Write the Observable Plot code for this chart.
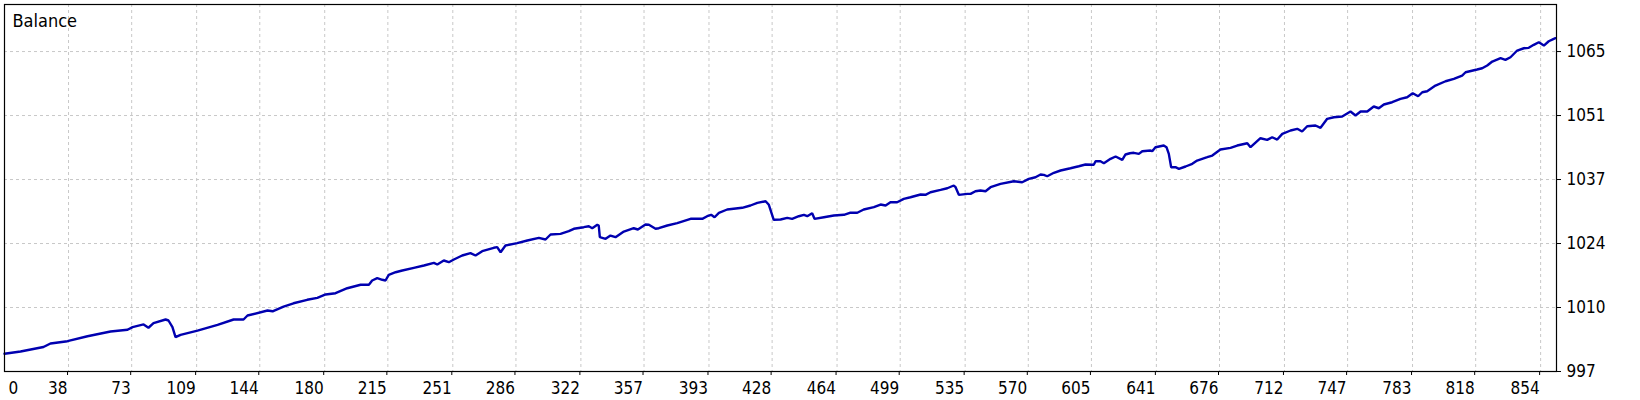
<!DOCTYPE html>
<html>
<head>
<meta charset="utf-8">
<script src="https://cdn.jsdelivr.net/npm/d3@7"></script>
<script src="https://cdn.jsdelivr.net/npm/@observablehq/plot@0.6"></script>
<style>
  html, body { margin: 0; padding: 0; background: #ffffff; }
  #chart { width: 1640px; height: 400px; }
</style>
</head>
<body>
<div id="chart"></div>
<script>
// Deal number (x) and account balance (y)
const deals = [
  2.5, 11.4, 24.1, 28.0, 37.4, 48.5, 61.3, 70.7, 73.5, 79.6, 82.3, 85.1, 91.8, 93.4, 95.6, 97.3, 100.1, 109.5, 120.6, 129.5, 135.0, 137.2, 148.3, 151.1, 157.2, 162.7,
  170.3, 175.9, 180.5, 186.0, 192.5, 199.9, 204.5, 206.3, 209.1, 211.9, 213.7, 215.5, 219.3, 223.0, 229.4, 235.0, 240.5, 242.4, 246.0, 248.8, 251.6, 256.2, 260.8, 263.6, 267.3, 273.7, 275.6, 277.5, 280.2, 286.7, 292.3, 298.7, 302.4, 305.2, 310.7, 315.3,
  318.1, 323.6, 326.4, 328.3, 331.1, 331.9, 332.5, 335.7, 338.4, 341.2, 345.8, 351.3, 353.6, 357.8, 359.7, 363.4, 365.2, 369.9, 375.4, 382.8, 389.3, 392.0, 394.2, 396.1, 398.5, 403.1, 411.4, 416.0, 419.8, 424.4, 426.2, 428.9, 432.7, 436.4, 439.1, 442.8, 445.6, 447.5, 450.2, 451.5, 456.7, 462.2, 467.8, 471.1,
  475.2, 478.8, 484.4, 488.1, 490.9, 493.6, 497.3, 501.0, 504.7, 510.3, 513.0, 515.8, 521.4, 525.1, 528.7, 529.7, 531.5, 536.2, 538.0, 540.7, 543.5, 546.3, 549.1, 554.6, 562.0, 566.6, 570.3, 574.0, 576.8, 578.6, 580.5, 584.2, 587.9, 593.4, 598.0, 601.7, 606.3, 607.3, 610.0, 611.9, 615.6, 618.4, 622.1, 623.9, 626.3,
  628.5, 631.3, 633.2, 637.8, 638.7, 640.5, 645.1, 646.6, 647.9, 649.2, 651.6, 653.5, 657.2, 660.9, 663.6, 669.2, 672.0, 676.5, 682.1, 685.8, 691.4, 693.2, 698.7, 702.4, 705.2, 708.0, 710.8, 715.4, 719.1, 721.8, 724.6, 729.2, 732.0, 735.7, 739.4, 744.0, 748.6, 751.4, 754.2, 757.9, 761.5, 764.3, 767.1, 771.7,
  776.3, 780.0, 783.1, 786.1, 788.4, 791.1, 795.7, 801.3, 805.9, 810.5, 812.4, 818.8, 821.6, 824.4, 827.2, 831.8, 834.5, 837.3, 841.0, 844.7, 847.4, 850.2, 853.0, 855.8, 858.5, 861.3, 862.2
];
const balance = [
  1000.76, 1001.25, 1002.20, 1002.95, 1003.44, 1004.50, 1005.50, 1005.87, 1006.42, 1007.00, 1006.30, 1007.27, 1008.05, 1007.84, 1006.42, 1004.30, 1004.80, 1005.70, 1006.90, 1008.05, 1008.05, 1008.90, 1009.96, 1009.80, 1010.80, 1011.50,
  1012.24, 1012.66, 1013.37, 1013.64, 1014.70, 1015.43, 1015.43, 1016.34, 1016.83, 1016.49, 1016.34, 1017.55, 1018.10, 1018.47, 1019.04, 1019.53, 1020.10, 1019.74, 1020.59, 1020.23, 1020.80, 1021.65, 1022.14, 1021.65, 1022.57, 1023.29, 1023.42, 1022.35, 1023.78, 1024.27, 1024.84, 1025.41, 1025.05, 1026.12, 1026.26, 1026.82,
  1027.33, 1027.67, 1027.88, 1027.45, 1028.18, 1028.03, 1025.54, 1025.20, 1025.90, 1025.54, 1026.75, 1027.45, 1027.18, 1028.24, 1028.18, 1027.33, 1027.45, 1028.03, 1028.52, 1029.45, 1029.45, 1030.00, 1030.30, 1029.79, 1030.73, 1031.43, 1031.79, 1032.28, 1032.85, 1033.19, 1032.43, 1029.24, 1029.30, 1029.66, 1029.45, 1030.00, 1030.30, 1030.00, 1030.64, 1029.45, 1029.79, 1030.15, 1030.30, 1030.73,
  1030.73, 1031.43, 1031.92, 1032.49, 1032.28, 1032.98, 1032.98, 1033.70, 1034.04, 1034.62, 1034.55, 1035.10, 1035.61, 1035.95, 1036.53, 1036.17, 1034.55, 1034.76, 1034.76, 1035.32, 1035.47, 1035.32, 1036.17, 1036.89, 1037.44, 1037.23, 1037.95, 1038.29, 1038.87, 1038.80, 1038.50, 1039.23, 1039.72, 1040.20, 1040.63, 1040.99, 1040.93, 1041.69, 1041.69, 1041.27, 1042.20, 1042.69, 1041.99, 1043.12, 1043.39,
  1043.48, 1043.26, 1043.82, 1043.96, 1043.82, 1044.67, 1045.03, 1044.67, 1043.26, 1040.42, 1040.42, 1040.08, 1040.57, 1041.14, 1041.84, 1042.54, 1042.90, 1044.18, 1044.54, 1045.03, 1045.52, 1044.67, 1046.58, 1046.24, 1046.79, 1046.30, 1047.51, 1048.22, 1048.58, 1048.00, 1049.13, 1049.28, 1048.79, 1050.70, 1051.04, 1051.19, 1052.25, 1051.40, 1052.25, 1052.25, 1053.32, 1052.95, 1053.74, 1054.23,
  1054.95, 1055.29, 1056.14, 1055.50, 1056.35, 1056.57, 1057.78, 1058.69, 1059.20, 1059.90, 1060.60, 1061.18, 1061.45, 1062.03, 1062.88, 1063.58, 1063.24, 1063.79, 1065.22, 1065.70, 1065.79, 1066.43, 1066.98, 1066.28, 1067.19, 1067.70, 1067.83
];

const xDomain = [2.5, 862.8];
const yDomain = [997, 1075];
const xTicks = [38, 73, 109, 144, 180, 215, 251, 286, 322, 357, 393, 428, 464, 499, 535, 570, 605, 641, 676, 712, 747, 783, 818, 854];
const yTicks = [997, 1010.6, 1024.2, 1037.8, 1051.4, 1065];
const yTickLabels = ["997", "1010", "1024", "1037", "1051", "1065"];
const title = "Balance";

const data = deals.map((d, i) => ({deal: d, balance: balance[i]}));

const FONT = "'DejaVu Sans Condensed', 'Liberation Sans', Arial, sans-serif";

const chart = Plot.plot({
  width: 1640,
  height: 400,
  marginLeft: 4,
  marginTop: 4,
  marginRight: 84,
  marginBottom: 29,
  style: {fontFamily: FONT, fontSize: "17px", background: "#ffffff", color: "#000000"},
  x: {type: "linear", domain: xDomain},
  y: {type: "linear", domain: yDomain},
  marks: [
    Plot.gridX(xTicks, {stroke: "#c8c8c8", strokeOpacity: 1, strokeDasharray: "3,3"}),
    Plot.gridY(yTicks, {stroke: "#c8c8c8", strokeOpacity: 1, strokeDasharray: "3,3"}),
    Plot.axisX(xTicks, {
      anchor: "bottom", tickSize: 4, tickPadding: 6, textAnchor: "end", dx: -1,
      fontSize: 17, stroke: "#000", tickFormat: d => String(d), label: null
    }),
    Plot.text([xDomain[0]], {
      x: d => d, frameAnchor: "bottom", text: () => "0", textAnchor: "start",
      lineAnchor: "top", dx: 4, dy: 10, fontSize: 17, fill: "#000"
    }),
    Plot.axisY(yTicks, {
      anchor: "right", tickSize: 4, tickPadding: 6, fontSize: 17,
      tickFormat: (d, i) => yTickLabels[yTicks.indexOf(d)], label: null
    }),
    Plot.line(data, {x: "deal", y: "balance", stroke: "#0000b0", strokeWidth: 2.4, curve: "linear", strokeLinejoin: "miter"}),
    Plot.frame({stroke: "#000000", strokeWidth: 1.2}),
    Plot.text([title], {
      frameAnchor: "top-left", text: d => d, textAnchor: "start", lineAnchor: "top",
      dx: 8, dy: 10, fontSize: 18, fill: "#000"
    })
  ]
});

document.getElementById("chart").appendChild(chart);
</script>
</body>
</html>
